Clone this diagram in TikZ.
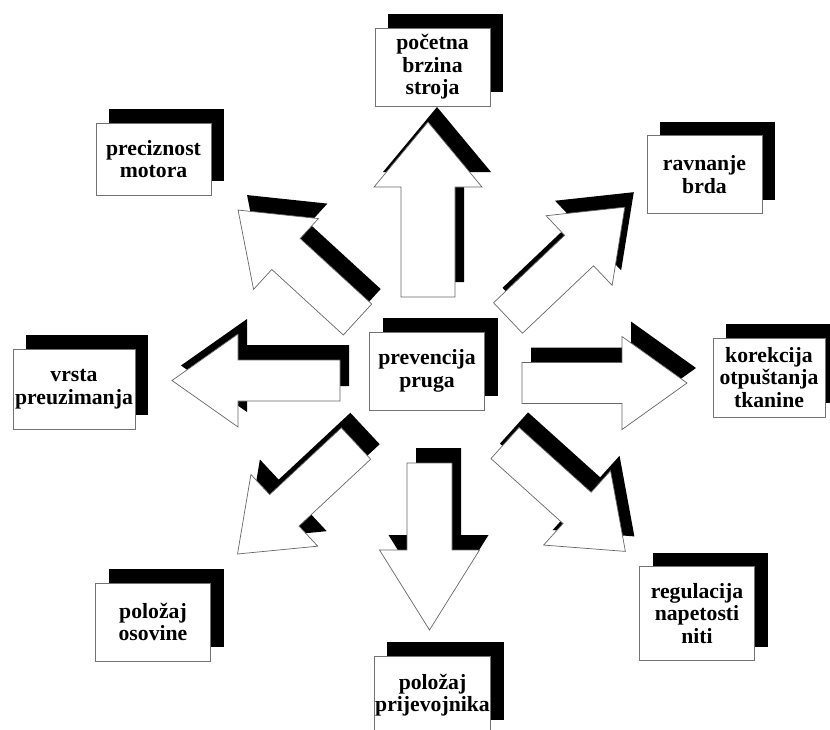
\documentclass[tikz,border=0pt]{standalone}
\usepackage{fontspec}
\setmainfont{Liberation Serif}
\usetikzlibrary{shadows}
\tikzset{
  factor/.style={draw=black!55, line width=0.8pt, fill=white, align=center,
    minimum width=115pt, minimum height=78pt, inner sep=1pt,
    font=\fontsize{21.7}{22.5}\selectfont\bfseries,
    general shadow={fill=black, shadow xshift=13pt, shadow yshift=14pt}},
  arrowbody/.style={draw=black!60, line width=0.7pt, fill=white, line join=miter},
  arrowshade/.style={fill=black}
}
% #1 back end, #2 angle, #3 length, #4 head length, #5 half shaft, #6 half head
\newcommand{\blockarrow}[6]{%
  \fill[arrowshade, shift={(9,-15)}, shift={#1}, rotate=#2]
    (0,#5) -- ({#3-#4},#5) -- ({#3-#4},#6) -- (#3,0)
    -- ({#3-#4},-#6) -- ({#3-#4},-#5) -- (0,-#5) -- cycle;
  \draw[arrowbody, shift={#1}, rotate=#2]
    (0,#5) -- ({#3-#4},#5) -- ({#3-#4},#6) -- (#3,0)
    -- ({#3-#4},-#6) -- ({#3-#4},-#5) -- (0,-#5) -- cycle;
}
\begin{document}
\begin{tikzpicture}[x=1pt,y=-1pt]
  \useasboundingbox (0,0) rectangle (830,729);
  \blockarrow{(428,297)}{90}{175}{65}{27}{54}
  \blockarrow{(429.5,463)}{-90}{167}{80}{22.5}{50}
  \blockarrow{(340,380.5)}{180}{168}{66}{20.5}{46.5}
  \blockarrow{(522,383)}{0}{165}{65}{20.5}{46.5}
  \blockarrow{(357.5,319.5)}{137.5}{162}{65}{21}{48}
  \blockarrow{(508,318)}{43.5}{161}{63}{21}{48}
  \blockarrow{(356,443.5)}{-137}{162}{64}{21.5}{49}
  \blockarrow{(505,443)}{-42}{162}{65}{21}{50}
  \node[factor] (pocetna) at (432.5,67) {početna\\brzina\\stroja};
  \node[factor] (prevencija) at (427,371) {prevencija\\pruga};
  \node[factor, minimum height=72pt] (preciznost) at (153.5,159) {preciznost\\motora};
  \node[factor] (ravnanje) at (704.5,174.5) {ravnanje\\brda};
  \node[factor, minimum width=122pt, minimum height=80pt] (vrsta) at (74,389) {vrsta\\preuzimanja};
  \node[factor, minimum width=112pt, minimum height=79pt] (korekcija) at (769,377.5) {korekcija\\otpuštanja\\tkanine};
  \node[factor] (osovina) at (153,622) {položaj\\osovine};
  \node[factor, minimum height=94pt] (regulacija) at (697,613.5) {regulacija\\napetosti\\niti};
  \node[factor] (prijevojnik) at (432.5,695) {položaj\\prijevojnika};
\end{tikzpicture}
\end{document}
